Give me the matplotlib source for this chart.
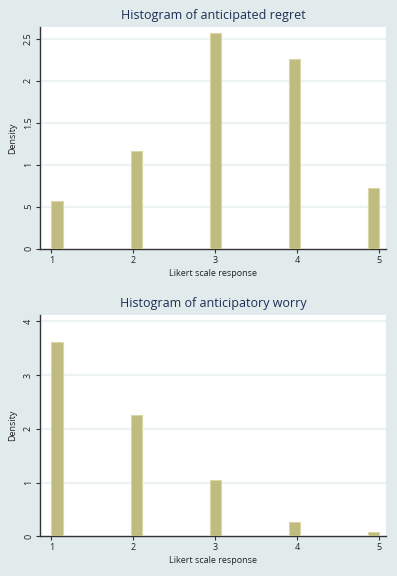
import numpy as np
import matplotlib
matplotlib.use("Agg")
import matplotlib.pyplot as plt

# Data
values = [1, 2, 3, 4, 5]
regret_density = [0.565, 1.164, 2.567, 2.257, 0.72]
worry_density = [3.615, 2.257, 1.042, 0.272, 0.074]
n_bins = 29
x_min, x_max = 1, 5
regret_yticks = [0, 0.5, 1, 1.5, 2, 2.5]
regret_yticklabels = ["0", ".5", "1", "1.5", "2", "2.5"]
worry_yticks = [0, 1, 2, 3, 4]
worry_yticklabels = ["0", "1", "2", "3", "4"]
titles = ["Histogram of anticipated regret", "Histogram of anticipatory worry"]
xlabel = "Likert scale response"
ylabel = "Density"

plt.rcParams['font.family'] = ['Open Sans', 'DejaVu Sans']

bg = '#E1EBEC'
bar_fc = '#C0BC80'
bar_ec = '#DAD6A6'
grid_c = '#EDF3F4'
axis_c = '#333333'
title_c = '#1C2E56'

fig = plt.figure(figsize=(3.97, 5.76), dpi=100)
fig.patch.set_facecolor(bg)

W, H = 397, 576
def rect(l, r, t, b):
    return [l / W, 1 - b / H, (r - l) / W, (b - t) / H]

panels = [
    (rect(40, 386, 27, 248.7), regret_density, regret_yticks, regret_yticklabels, 2.64, 16),
    (rect(40, 386, 315, 536.3), worry_density, worry_yticks, worry_yticklabels, 4.117, 304),
]

bw = (x_max - x_min) / n_bins
for (pos, dens, yt, ytl, ytop, ty), title in zip(panels, titles):
    ax = fig.add_axes(pos)
    ax.set_facecolor('white')
    lefts = [x_min + min(int((v - x_min) / bw), n_bins - 1) * bw for v in values]
    ax.bar(lefts, dens, width=bw, align='edge', color=bar_fc, edgecolor=bar_ec,
           linewidth=0.8, zorder=3)
    ax.set_xlim(0.862, 5.08)
    ax.set_ylim(0, ytop)
    ax.set_yticks(yt)
    ax.set_yticklabels(ytl, rotation=90, va='center', fontsize=6.5)
    ax.set_xticks(values)
    ax.set_xticklabels([str(v) for v in values], fontsize=6.5)
    for y in yt[1:]:
        ax.axhline(y, color=grid_c, lw=1.6, zorder=1)
    for s in ['top', 'right']:
        ax.spines[s].set_visible(False)
    for s in ['left', 'bottom']:
        ax.spines[s].set_color(axis_c)
        ax.spines[s].set_linewidth(1.0)
    ax.tick_params(axis='both', direction='out', length=3, width=0.8, color=axis_c,
                   pad=2, labelcolor='#222222')
    ax.set_xlabel(xlabel, fontsize=6.5, color='#222222', labelpad=3)
    ax.set_ylabel(ylabel, fontsize=6.5, color='#222222', labelpad=5)
    fig.text(213 / W, 1 - ty / H, title, ha='center', va='center', fontsize=9,
             color=title_c)

fig.savefig('out.png', dpi=100, facecolor=bg)
